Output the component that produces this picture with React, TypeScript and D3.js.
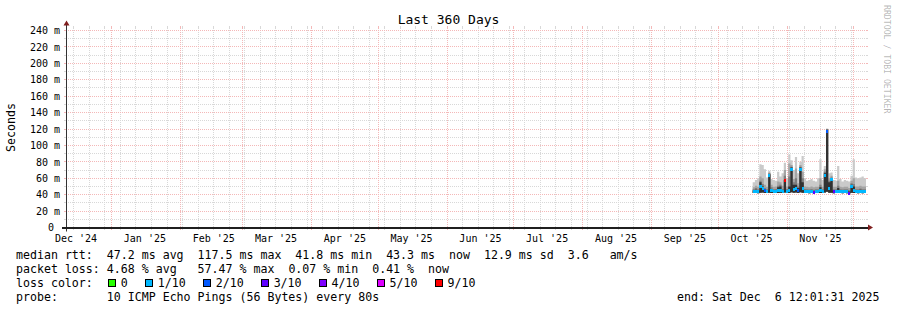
import React from "react";
import * as d3 from "d3";

// ---- time frame ----
const startTime = new Date(Date.UTC(2024, 11, 11, 12, 1, 31));
const endTime = new Date(Date.UTC(2025, 11, 6, 12, 1, 31));
const firstBin = new Date(Date.UTC(2025, 9, 16, 12, 0, 0));

// ---- data (one bin per day, values in ms) ----
const medianMs = [
  43.5, 44.0, 43.8, 50.0, 47.0, 44.5, 43.6, 63.0, 45.0, 43.7,
  44.0, 44.5, 45.0, 44.0, 57.0, 44.2, 44.5, 71.0, 46.0, 47.0,
  45.0, 71.0, 47.0, 44.0, 43.6, 43.5, 44.0, 43.2, 43.5, 43.8,
  44.5, 43.6, 63.0, 117.5, 48.0, 59.0, 43.4, 43.6, 44.0, 43.5,
  43.4, 43.7, 43.5, 41.8, 50.0, 45.0, 43.6, 43.5, 43.8, 43.4,
  43.3,
];
const lossPct = [
  2, 3, 1, 5, 7, 12, 2, 4, 3, 1,
  2, 4, 3, 2, 57.47, 3, 2, 6, 4, 5,
  14, 8, 4, 2, 1, 2, 3, 24, 2, 1,
  3, 2, 5, 15, 6, 8, 22, 2, 3, 1,
  2, 1, 0.07, 25, 5, 3, 2, 1, 2, 1,
  0.41,
];
const pingMin = [
  41.9, 42.0, 41.8, 42.3, 42.5, 42.0, 41.9, 42.4, 42.1, 41.9,
  42.0, 42.1, 42.2, 42.0, 42.5, 42.0, 42.0, 42.8, 42.3, 42.5,
  42.1, 42.9, 42.4, 42.0, 41.9, 41.8, 42.0, 41.8, 41.9, 42.0,
  42.1, 41.9, 42.6, 43.5, 42.4, 42.3, 41.8, 41.9, 42.0, 41.9,
  41.8, 41.9, 41.8, 41.5, 42.3, 42.1, 41.9, 41.8, 41.9, 41.8,
  41.9,
];
const pingDark = [
  45, 46, 45, 55, 50, 46, 45, 65, 47, 45,
  45.5, 49, 50, 45.5, 58, 45.5, 50, 73, 52, 52,
  48, 73, 55, 45.5, 45, 44.8, 45.5, 44.5, 45, 45,
  49, 45, 66, 119, 55, 60, 45, 45, 48, 45,
  44.8, 45, 45, 44, 52, 50, 45, 45, 46, 45,
  45,
];
const pingMid = [
  46.5, 48, 46.5, 57, 53, 48, 46.5, 66, 49, 46.5,
  47, 51, 52, 47, 63, 47, 62, 74, 55, 60,
  50, 74, 60, 47, 46.5, 46.3, 47, 46, 46.5, 46.5,
  52, 46.5, 68, 119.5, 57, 61, 46.5, 46.5, 51, 46.5,
  46.3, 46.5, 46.5, 45.5, 54, 53, 46.5, 46.5, 47.5, 46.5,
  46.5,
];
const pingHigh = [
  49, 51, 49.5, 62, 60, 52, 49.5, 67, 52, 49.5,
  50, 56, 55, 51, 70, 50, 78, 76, 59, 72,
  54, 76, 68, 50, 49.5, 49, 50, 49, 49.5, 49.5,
  60, 49.5, 71, 120, 60, 63, 49.5, 49.5, 57, 49.5,
  49, 49.5, 49.5, 48, 57, 60, 50, 50, 51, 50,
  50,
];
const pingMax = [
  55, 58, 60, 77, 76, 71, 61, 69, 59, 58,
  57, 68, 62, 66, 79, 59, 89, 82, 70, 86,
  66, 80, 87, 60, 57, 58, 59, 57, 56, 60,
  83, 58, 75, 120.5, 66, 67, 58, 57, 75, 59,
  56, 58, 57, 56, 63, 83, 61, 60, 61, 62,
  60,
];

// ---- axes ----
const yMajorTicks = [0, 20, 40, 60, 80, 100, 120, 140, 160, 180, 200, 220, 240];
const yMajorLabels = ["0", "20 m", "40 m", "60 m", "80 m", "100 m", "120 m", "140 m", "160 m", "180 m", "200 m", "220 m", "240 m"];
const yMinorTicks = [10, 30, 50, 70, 90, 110, 130, 150, 170, 190, 210, 230];
const monthLabels = ["Dec '24", "Jan '25", "Feb '25", "Mar '25", "Apr '25", "May '25", "Jun '25", "Jul '25", "Aug '25", "Sep '25", "Oct '25", "Nov '25"];

// ---- legend ----
const titleText = "Last 360 Days";
const yAxisTitle = "Seconds";
const legendLines = [
  "median rtt:  47.2 ms avg  117.5 ms max  41.8 ms min  43.3 ms  now  12.9 ms sd  3.6   am/s",
  "packet loss: 4.68 % avg   57.47 % max  0.07 % min  0.41 %  now",
];
const lossLegendTitle = "loss color:";
const lossLegendLabels = ["0", "1/10", "2/10", "3/10", "4/10", "5/10", "9/10"];
const lossColors = ["#26ff00", "#00b8ff", "#0059ff", "#5e00ff", "#7e00ff", "#dd00ff", "#ff0000"];
const lossUpperPct = [0, 10, 20, 30, 40, 50, 100];
const probeText = "probe:       10 ICMP Echo Pings (56 Bytes) every 80s";
const endText = "end: Sat Dec  6 12:01:31 2025";
const watermark = "RRDTOOL / TOBI OETIKER";

const smokeColors = ["#cacaca", "#a4a4a4", "#7e7e7e", "#323232"];

const FONT = "DejaVu Sans Mono";
const GRID = "#d8d8d8";
const MGRID = "#f4b8b8";

function tokens(s: string) {
  const out: { col: number; text: string }[] = [];
  const re = /\S+/g;
  let m: RegExpExecArray | null;
  while ((m = re.exec(s))) out.push({ col: m.index, text: m[0] });
  return out;
}

export default function App() {
  const W = 897;
  const H = 310;
  const left = 66;
  const right = 866;
  const top = 27.5;
  const bottom = 227.5;
  const charW = 6.984;

  const x = d3.scaleUtc().domain([startTime, endTime]).range([left, right]);
  const y = d3.scaleLinear().domain([0, 240]).range([bottom, 30.5]);
  const snap = (v: number) => Math.floor(v) + 0.5;

  const weeks = d3.utcSunday.range(startTime, endTime);
  const months = d3.utcMonth.range(d3.utcMonth.ceil(startTime), endTime);
  const labelTimes = d3.utcMonth
    .range(d3.utcMonth.floor(startTime), endTime)
    .map((m) => d3.utcDay.offset(m, 15))
    .filter((t) => t >= startTime && t <= endTime);

  const bins = medianMs.map((m, i) => {
    const t0 = d3.utcDay.offset(firstBin, i);
    let t1 = d3.utcDay.offset(firstBin, i + 1);
    if (t1 > endTime) t1 = endTime;
    return {
      t0,
      t1,
      median: m,
      loss: lossPct[i],
      min: pingMin[i],
      levels: [pingMax[i], pingHigh[i], pingMid[i], pingDark[i]],
    };
  });
  const last = bins[bins.length - 1];
  const stepPts = [...bins.map((b) => ({ t: b.t0, b })), { t: last.t1, b: last }];

  const bandPaths = smokeColors.map((c, li) => {
    const area = d3
      .area<{ t: Date; b: (typeof bins)[number] }>()
      .x((d) => x(d.t))
      .y0((d) => y(d.b.min))
      .y1((d) => y(d.b.levels[li]))
      .curve(d3.curveStepAfter);
    return { color: c, d: area(stepPts) || "" };
  });

  const lossColor = (l: number) => {
    const idx = lossUpperPct.findIndex((u) => l <= u);
    return lossColors[idx < 0 ? lossColors.length - 1 : idx];
  };

  let bx = 108;
  const lossItems = lossLegendLabels.map((lab, i) => {
    const item = { x: bx, label: lab, color: lossColors[i] };
    bx += 30 + lab.length * charW;
    return item;
  });

  const textRow = (s: string, x0: number, yy: number, key: string) => (
    <g key={key}>
      {tokens(s).map((tk, i) => (
        <text key={i} x={x0 + tk.col * charW} y={yy}>
          {tk.text}
        </text>
      ))}
    </g>
  );

  const hLine = (v: number, color: string, key: string) => {
    const yy = snap(y(v));
    return (
      <g key={key}>
        <line x1={left - 2} x2={left} y1={yy} y2={yy} stroke={color} />
        <line x1={right} x2={right + 2} y1={yy} y2={yy} stroke={color} />
        <line x1={left} x2={right} y1={yy} y2={yy} stroke={color} strokeDasharray="1 1" />
      </g>
    );
  };
  const vLine = (t: Date, color: string, key: string) => {
    const xx = snap(x(t));
    return (
      <g key={key}>
        <line x1={xx} x2={xx} y1={top - 2} y2={top} stroke={color} />
        <line x1={xx} x2={xx} y1={bottom} y2={bottom + 2} stroke={color} />
        <line x1={xx} x2={xx} y1={top} y2={bottom} stroke={color} strokeDasharray="1 1" />
      </g>
    );
  };

  return (
    <svg
      width={W}
      height={H}
      viewBox={`0 0 ${W} ${H}`}
      style={{ position: "absolute", left: 0, top: 0, background: "#fff" }}
      fontFamily={FONT}
    >
      <rect x={0} y={0} width={W} height={H} fill="#ffffff" />

      {/* grid */}
      <g shapeRendering="crispEdges">
        {yMinorTicks.map((v) => hLine(v, GRID, `hm${v}`))}
        {weeks.map((t, i) => vLine(t, GRID, `vm${i}`))}
        {yMajorTicks.map((v) => hLine(v, MGRID, `hM${v}`))}
        {months.map((t, i) => vLine(t, MGRID, `vM${i}`))}
      </g>

      {/* smoke */}
      <g>
        {bandPaths.map((p, i) => (
          <path key={i} d={p.d} fill={p.color} stroke="none" />
        ))}
      </g>

      {/* median line coloured by loss */}
      <g shapeRendering="crispEdges">
        {bins.map((b, i) => (
          <rect
            key={i}
            x={x(b.t0)}
            width={Math.max(0.5, x(b.t1) - x(b.t0))}
            y={y(b.median) - 1.5}
            height={3}
            fill={lossColor(b.loss)}
          />
        ))}
      </g>

      {/* axes */}
      <line x1={left + 0.5} x2={left + 0.5} y1={bottom + 4} y2={top - 4} stroke="#333" strokeWidth={1} />
      <line x1={left - 4} x2={right + 4} y1={228} y2={228} stroke="#1f1f1f" strokeWidth={2} />
      <polygon
        points={`${right + 2},${bottom - 3} ${right + 2},${bottom + 3} ${right + 7},${bottom}`}
        fill="#801f1f"
      />
      <polygon
        points={`${left - 2.5},${top - 2} ${left + 3.5},${top - 2} ${left + 0.5},${top - 7}`}
        fill="#801f1f"
      />

      {/* y labels */}
      <g fontSize={10} fill="#000" textAnchor="end">
        {yMajorTicks.map((v, i) => (
          <text key={v} x={v === 0 ? 54 : 60} y={y(v) + 3.7}>
            {yMajorLabels[i]}
          </text>
        ))}
      </g>

      {/* x labels */}
      <g fontSize={10} fill="#000" textAnchor="middle">
        {labelTimes.map((t, i) => (
          <text key={i} x={x(t)} y={242}>
            {monthLabels[i]}
          </text>
        ))}
      </g>

      {/* title */}
      <text x={448.5} y={24} fontSize={13} textAnchor="middle" fill="#000">
        {titleText}
      </text>
      <text
        transform="translate(15,127.5) rotate(-90)"
        fontSize={11.6}
        textAnchor="middle"
        fill="#000"
      >
        {yAxisTitle}
      </text>
      <text transform="translate(883.5,5) rotate(90)" fontSize={8.2} fill="rgba(0,0,0,0.3)">
        {watermark}
      </text>

      {/* legend */}
      <g fontSize={11.6} fill="#000">
        {legendLines.map((l, i) => textRow(l, 16, 258.5 + i * 14, `l${i}`))}
        <text x={16} y={286.5}>
          {lossLegendTitle}
        </text>
        {lossItems.map((it, i) => (
          <g key={i}>
            <rect
              x={it.x + 0.5}
              y={279.5}
              width={7}
              height={7}
              fill={it.color}
              stroke="#000"
              strokeWidth={1}
              shapeRendering="crispEdges"
            />
            <text x={it.x + 12.8} y={286.5}>
              {it.label}
            </text>
          </g>
        ))}
        {textRow(probeText, 16, 300.5, "probe")}
        {textRow(endText, 677, 300.5, "end")}
      </g>
    </svg>
  );
}
